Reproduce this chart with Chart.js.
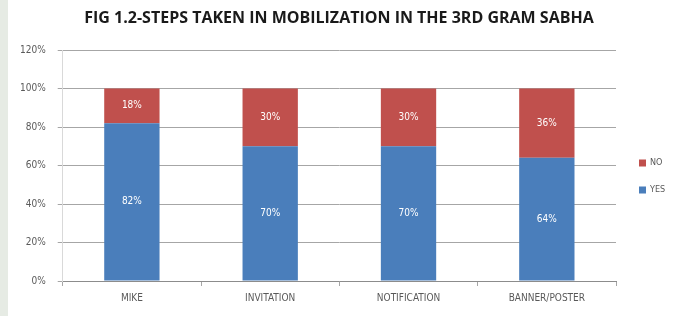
<!DOCTYPE html>
<html>
<head>
<meta charset="utf-8">
<script src="https://cdn.jsdelivr.net/npm/chart.js@4"></script>
<style>
  html, body { margin: 0; padding: 0; background: #ffffff; }
  #wrap { width: 685px; height: 316px; position: relative; }
</style>
</head>
<body>
<div id="wrap"><canvas id="chart" width="685" height="316"></canvas></div>
<script>
const categories = ['MIKE', 'INVITATION', 'NOTIFICATION', 'BANNER/POSTER'];
const yesValues = [82, 70, 70, 64];
const noValues = [18, 30, 30, 36];
const yTicks = [0, 20, 40, 60, 80, 100, 120];
const chartTitle = 'FIG 1.2-STEPS TAKEN IN MOBILIZATION IN THE 3RD GRAM SABHA';

const BLUE = '#4a7ebb';
const RED = '#c0504d';
const GREY_TEXT = '#595959';
const SMALL_FONT = '"Liberation Sans Narrow", "DejaVu Sans Condensed", sans-serif';

// white sheet with the greyish strip on the left, plus the title
const frame = {
  id: 'frame',
  beforeDraw(chart) {
    const { ctx, width, height } = chart;
    ctx.save();
    ctx.fillStyle = '#ffffff';
    ctx.fillRect(0, 0, width, height);
    ctx.fillStyle = '#e6ebe4';
    ctx.fillRect(0, 0, 8, height);
    ctx.fillStyle = '#1a1a1a';
    ctx.font = 'bold 16px "Open Sans", sans-serif';
    ctx.textAlign = 'center';
    ctx.textBaseline = 'middle';
    ctx.fillText(chartTitle, 339, 18);
    ctx.restore();
  }
};

// value labels in the middle of each segment
const segLabels = {
  id: 'segLabels',
  afterDatasetsDraw(chart) {
    const { ctx } = chart;
    ctx.save();
    ctx.font = '10px ' + SMALL_FONT;
    ctx.fillStyle = '#ffffff';
    ctx.textAlign = 'center';
    ctx.textBaseline = 'middle';
    chart.data.datasets.forEach((ds, i) => {
      const meta = chart.getDatasetMeta(i);
      meta.data.forEach((bar, j) => {
        const y = (bar.y + bar.base) / 2;
        ctx.fillText(ds.data[j] + '%', bar.x, y);
      });
    });
    ctx.restore();
  }
};

// legend at the right, NO above YES
const sideLegend = {
  id: 'sideLegend',
  afterDraw(chart) {
    const { ctx, chartArea } = chart;
    const items = chart.data.datasets.slice().reverse();
    const x = chartArea.right + 23;
    let y = 163;
    ctx.save();
    ctx.font = '9px ' + SMALL_FONT;
    ctx.textBaseline = 'middle';
    items.forEach(ds => {
      ctx.fillStyle = ds.backgroundColor;
      ctx.fillRect(x, y - 3.5, 7, 7);
      ctx.fillStyle = GREY_TEXT;
      ctx.fillText(ds.label, x + 11, y);
      y += 27;
    });
    ctx.restore();
  }
};

new Chart(document.getElementById('chart'), {
  type: 'bar',
  data: {
    labels: categories,
    datasets: [
      { label: 'YES', data: yesValues, backgroundColor: BLUE },
      { label: 'NO', data: noValues, backgroundColor: RED }
    ]
  },
  plugins: [frame, segLabels, sideLegend],
  options: {
    responsive: false,
    animation: false,
    devicePixelRatio: 1,
    layout: { padding: { left: 8, right: 69, top: 50, bottom: 6 } },
    datasets: { bar: { barPercentage: 0.8, categoryPercentage: 0.5 } },
    scales: {
      x: {
        stacked: true,
        grid: { display: true, offset: true, drawOnChartArea: false, color: '#a6a6a6', tickLength: 5 },
        border: { color: '#8c8c8c' },
        ticks: { color: GREY_TEXT, font: { size: 10, family: SMALL_FONT }, padding: 6 }
      },
      y: {
        stacked: true,
        min: 0,
        max: 120,
        afterBuildTicks(axis) { axis.ticks = yTicks.map(v => ({ value: v })); },
        grid: { color: '#a6a6a6', tickLength: 5 },
        border: { color: '#d9d9d9' },
        ticks: {
          color: GREY_TEXT,
          font: { size: 10, family: SMALL_FONT },
          padding: 12,
          callback: v => v + '%'
        }
      }
    },
    plugins: {
      title: { display: false },
      legend: { display: false },
      tooltip: { enabled: false }
    }
  }
});
</script>
</body>
</html>
